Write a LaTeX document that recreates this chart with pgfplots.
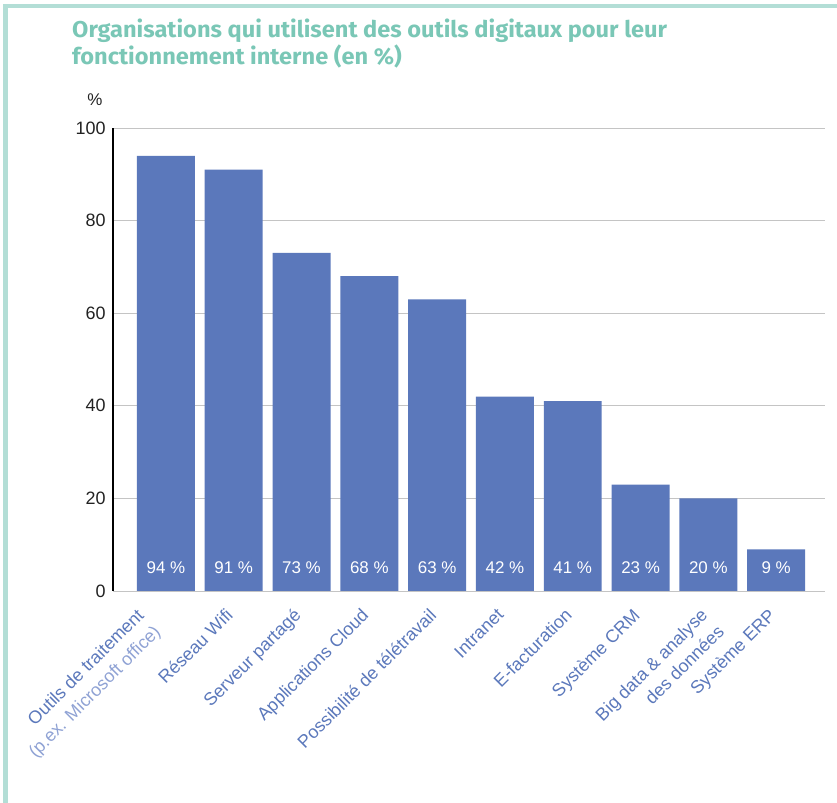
\documentclass[border=0pt]{standalone}
\usepackage{pgfplots}
\pgfplotsset{compat=1.18}
\usepackage{fontspec}
\setmainfont{Liberation Sans}
\newfontfamily\titlefont[FakeStretch=1.03]{Fira Sans}
\definecolor{barblue}{HTML}{5B78BB}
\definecolor{lightlab}{HTML}{8FA2D4}
\definecolor{tealtitle}{HTML}{7AC7B6}
\definecolor{framecol}{HTML}{B3DED6}
\definecolor{gridgrey}{HTML}{C4C4C4}
\definecolor{ticktext}{HTML}{222222}
\begin{document}
\begin{tikzpicture}[x=1bp,y=1bp]
\useasboundingbox (0,0) rectangle (837,803);
\fill[framecol] (3,0) rectangle (8,799);
\fill[framecol] (3,795) rectangle (837,799);
\node[anchor=base west, text=tealtitle, font=\titlefont\bfseries\fontsize{23}{27}\selectfont, inner sep=0pt] at (72,765) {Organisations qui utilisent des outils digitaux pour leur};
\node[anchor=base west, text=tealtitle, font=\titlefont\bfseries\fontsize{23}{27}\selectfont, inner sep=0pt] at (72,738) {fonctionnement interne (en \%)};
\node[text=ticktext, font=\fontsize{17}{20}\selectfont, inner sep=0pt] at (95,703) {\%};
\begin{axis}[
  at={(113bp,212bp)}, anchor=south west,
  scale only axis, width=712bp, height=463bp,
  xmin=-0.78, xmax=9.72, ymin=0, ymax=100,
  axis lines*=left,
  x axis line style={draw=none},
  y axis line style={black, line width=1.6bp},
  major tick length=0pt,
  /pgf/number format/assume math mode=true,
  ytick={0,20,40,60,80,100},
  ymajorgrids, grid style={gridgrey, line width=0.9bp},
  yticklabel style={text=ticktext, font=\fontsize{18}{21}\selectfont, xshift=-4bp},
  xtick={1,...,9},
  xticklabels={R\'eseau Wifi, Serveur partag\'e, Applications Cloud, Possibilit\'e de t\'el\'etravail,
    Intranet, E-facturation, Syst\`eme CRM, {Big data \& analyse\\des donn\'ees}, Syst\`eme ERP},
  xticklabel style={xshift=-9bp, yshift=-16bp, rotate=45, anchor=north east, align=right, text=barblue,
    font=\fontsize{18}{23.5}\selectfont, inner sep=0pt},
  extra x ticks={0},
  extra x tick labels={{Outils de traitement\\\textcolor{lightlab}{(p.ex. Microsoft office)}}},
  extra x tick style={grid=none, xticklabel style={xshift=-15bp, yshift=15bp}},
  clip=false,
]
\addplot[ybar, bar width=0.855, bar shift=0pt, fill=barblue, draw=none]
  coordinates {(0,94) (1,91) (2,73) (3,68) (4,63) (5,42) (6,41) (7,23) (8,20) (9,9)};
\addplot[draw=none, mark=none, point meta=explicit,
  nodes near coords={\pgfmathprintnumber{\pgfplotspointmeta}~\%},
  every node near coord/.append style={anchor=center, text=white, font=\fontsize{17}{20}\selectfont, inner sep=0pt}]
  coordinates {(0,5)[94] (1,5)[91] (2,5)[73] (3,5)[68] (4,5)[63] (5,5)[42] (6,5)[41] (7,5)[23] (8,5)[20] (9,5)[9]};
\end{axis}
\end{tikzpicture}
\end{document}
